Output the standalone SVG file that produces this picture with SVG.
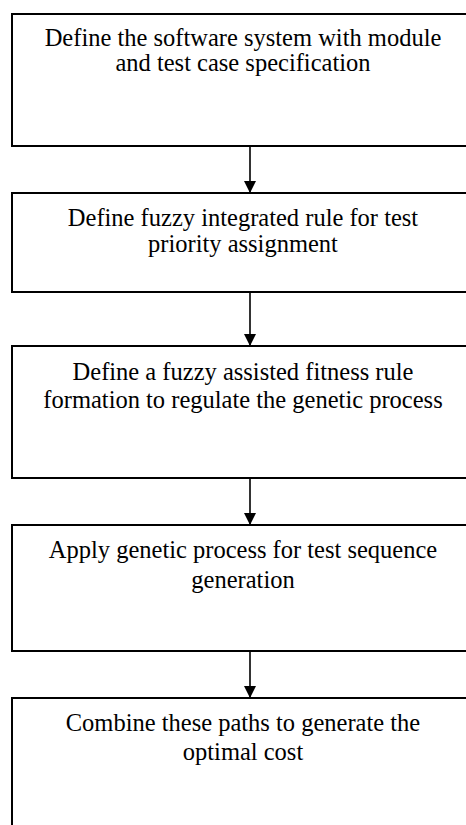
<svg xmlns="http://www.w3.org/2000/svg" width="466" height="825" viewBox="0 0 466 825">
<defs>
<style>
.box{fill:#fff;stroke:#000;stroke-width:2}
.t{font-family:'Liberation Serif','Times New Roman',Times,'DejaVu Serif',serif;font-size:24.5px;fill:#000;text-anchor:middle}
.c{stroke:#000;stroke-width:1.6;fill:none}
</style>
<marker id="ah" markerWidth="12" markerHeight="14" refX="12" refY="7" orient="auto" markerUnits="userSpaceOnUse">
<path d="M0,1 L12,7 L0,13 Z" fill="#000"/>
</marker>
</defs>
<rect width="466" height="825" fill="#fff"/>
<g id="connectors">
<line class="c" x1="250" y1="146" x2="250" y2="193" marker-end="url(#ah)"/>
<line class="c" x1="250" y1="292" x2="250" y2="346" marker-end="url(#ah)"/>
<line class="c" x1="250" y1="474" x2="250" y2="525" marker-end="url(#ah)"/>
<line class="c" x1="250" y1="645" x2="250" y2="698" marker-end="url(#ah)"/>
</g>
<g id="n1">
<rect class="box" x="12" y="14" width="470" height="132"/>
<text class="t" x="243" y="46" font-family="Liberation Serif, serif">Define the software system with module</text>
<text class="t" x="243" y="71" font-family="Liberation Serif, serif">and test case specification</text>
</g>
<g id="n2">
<rect class="box" x="12" y="193" width="470" height="99"/>
<text class="t" x="243" y="226">Define fuzzy integrated rule for test</text>
<text class="t" x="243" y="252">priority assignment</text>
</g>
<g id="n3">
<rect class="box" x="12" y="346" width="470" height="132"/>
<text class="t" x="243" y="380">Define a fuzzy assisted fitness rule</text>
<text class="t" x="243" y="408">formation to regulate the genetic process</text>
</g>
<g id="n4">
<rect class="box" x="12" y="525" width="470" height="126"/>
<text class="t" x="243" y="558">Apply genetic process for test sequence</text>
<text class="t" x="243" y="588">generation</text>
</g>
<g id="n5">
<rect class="box" x="12" y="698" width="470" height="140"/>
<text class="t" x="243" y="731">Combine these paths to generate the</text>
<text class="t" x="243" y="760">optimal cost</text>
</g>
</svg>
